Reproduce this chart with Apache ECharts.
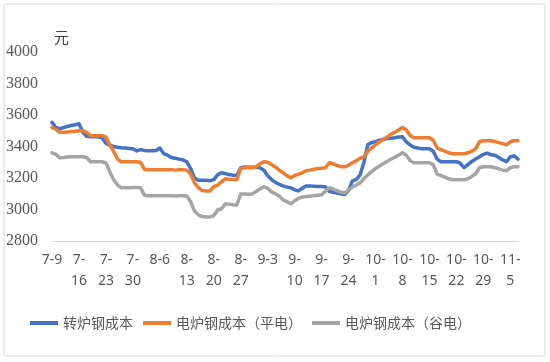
<!DOCTYPE html>
<html>
<head>
<meta charset="utf-8">
<script src="https://cdn.jsdelivr.net/npm/echarts@6/dist/echarts.min.js"></script>
<style>html,body{margin:0;padding:0;background:#fff;}#c{width:550px;height:362px;}</style>
</head>
<body>
<div id="c"></div>
<script>
// Categories: daily dates from 7-9 to 11-7
const categories = [];
(function(){
  const monthDays = {7:31, 8:31, 9:30, 10:31, 11:30};
  let m = 7, d = 9;
  for (let i = 0; i < 122; i++) {
    categories.push(m + '-' + d);
    d++;
    if (d > monthDays[m]) { d = 1; m++; }
  }
})();

const seriesNames = ['转炉钢成本', '电炉钢成本（平电）', '电炉钢成本（谷电）'];

const bofCost = [
3553,3520,3513,3520,3527,3533,3538,3545,3490,3465,
3462,3462,3462,3455,3420,3408,3400,3395,3392,3390,
3388,3386,3372,3380,3375,3373,3373,3375,3390,3355,
3345,3330,3325,3320,3315,3303,3260,3200,3185,3185,
3185,3183,3190,3220,3233,3228,3222,3218,3214,3265,
3270,3268,3268,3268,3265,3250,3215,3190,3172,3160,
3150,3142,3138,3125,3118,3135,3150,3150,3148,3146,
3146,3144,3115,3110,3105,3100,3095,3120,3182,3190,
3220,3300,3411,3425,3430,3440,3445,3450,3452,3455,
3460,3462,3430,3410,3395,3390,3386,3386,3386,3370,
3320,3303,3303,3303,3303,3303,3295,3265,3285,3305,
3320,3335,3350,3358,3348,3345,3330,3315,3303,3335,
3340,3320];

const eafFlat = [
3520,3510,3490,3490,3492,3495,3497,3500,3500,3490,
3468,3469,3469,3469,3460,3410,3370,3320,3303,3303,
3303,3303,3303,3300,3255,3252,3252,3252,3252,3252,
3252,3252,3250,3252,3252,3250,3225,3170,3138,3120,
3118,3118,3145,3155,3175,3195,3192,3190,3189,3260,
3265,3265,3265,3270,3290,3303,3300,3285,3270,3250,
3233,3215,3201,3215,3225,3233,3246,3250,3255,3260,
3262,3265,3297,3290,3280,3272,3271,3280,3297,3310,
3325,3335,3370,3392,3410,3430,3445,3460,3478,3490,
3505,3520,3505,3470,3456,3456,3456,3456,3456,3440,
3390,3380,3370,3360,3354,3354,3354,3354,3360,3370,
3386,3430,3437,3437,3437,3432,3425,3418,3411,3430,
3437,3437];

const eafValley = [
3360,3350,3329,3330,3333,3335,3335,3335,3335,3330,
3303,3303,3303,3303,3295,3240,3190,3155,3138,3138,
3138,3140,3140,3138,3090,3087,3087,3087,3087,3087,
3087,3087,3085,3087,3087,3085,3050,2990,2966,2955,
2953,2953,2960,2997,3005,3036,3034,3030,3029,3099,
3099,3097,3099,3115,3130,3144,3135,3112,3100,3085,
3061,3050,3036,3055,3070,3080,3082,3085,3088,3090,
3093,3115,3138,3130,3120,3110,3106,3125,3144,3155,
3169,3195,3220,3240,3260,3275,3290,3305,3320,3332,
3345,3360,3345,3310,3297,3297,3297,3297,3297,3285,
3225,3215,3205,3195,3189,3189,3189,3189,3195,3210,
3227,3265,3271,3271,3271,3265,3258,3250,3246,3265,
3271,3271];

const yTicks = [2800, 3000, 3200, 3400, 3600, 3800, 4000];
const unitLabel = '元';
const colors = ['#4472C4', '#ED7D31', '#A5A5A5'];

const chart = echarts.init(document.getElementById('c'), null, {renderer: 'canvas'});
const dataSets = [bofCost, eafFlat, eafValley];

chart.setOption({
  animation: false,
  backgroundColor: '#fff',
  color: colors,
  graphic: [
    {type: 'rect', shape: {x: 4, y: 4, width: 541, height: 352, r: 2},
     style: {fill: 'none', stroke: '#d9d9d9', lineWidth: 1}, silent: true, z: -1},
    {type: 'text', left: 54, top: 30,
     style: {text: unitLabel, fill: '#404040', font: '15px "Noto Sans CJK SC"'}}
  ],
  grid: {left: 52, right: 32, top: 52, bottom: 121, containLabel: false},
  legend: {
    left: 30, top: 316, padding: 0,
    icon: 'rect', itemWidth: 28, itemHeight: 4, itemGap: 10,
    textStyle: {fontFamily: '"Noto Sans CJK SC"', fontSize: 14, color: '#595959'},
    data: seriesNames
  },
  xAxis: {
    type: 'category',
    data: categories,
    boundaryGap: false,
    axisLine: {show: true, lineStyle: {color: '#d9d9d9', width: 1}},
    axisTick: {show: false},
    axisLabel: {
      interval: 6,
      margin: 9,
      color: '#595959',
      fontFamily: '"Noto Sans"',
      fontSize: 14,
      lineHeight: 21,
      formatter: function (v) {
        if (v.length > 3) { const p = v.split('-'); return p[0] + '-\n' + p[1]; }
        return v;
      }
    }
  },
  yAxis: {
    type: 'value',
    min: yTicks[0], max: yTicks[yTicks.length - 1], interval: 200,
    axisLine: {show: false},
    axisTick: {show: false},
    splitLine: {show: false},
    axisLabel: {color: '#595959', fontFamily: '"Liberation Serif"', fontSize: 16, margin: 14,
      formatter: function (v) { return String(v); }}
  },
  series: dataSets.map(function (d, i) {
    return {
      name: seriesNames[i], type: 'line', data: d,
      showSymbol: false, symbol: 'none', smooth: false,
      lineStyle: {width: 3.5, color: colors[i], cap: 'round', join: 'round'},
      z: 2 + i
    };
  })
});
</script>
</body>
</html>
